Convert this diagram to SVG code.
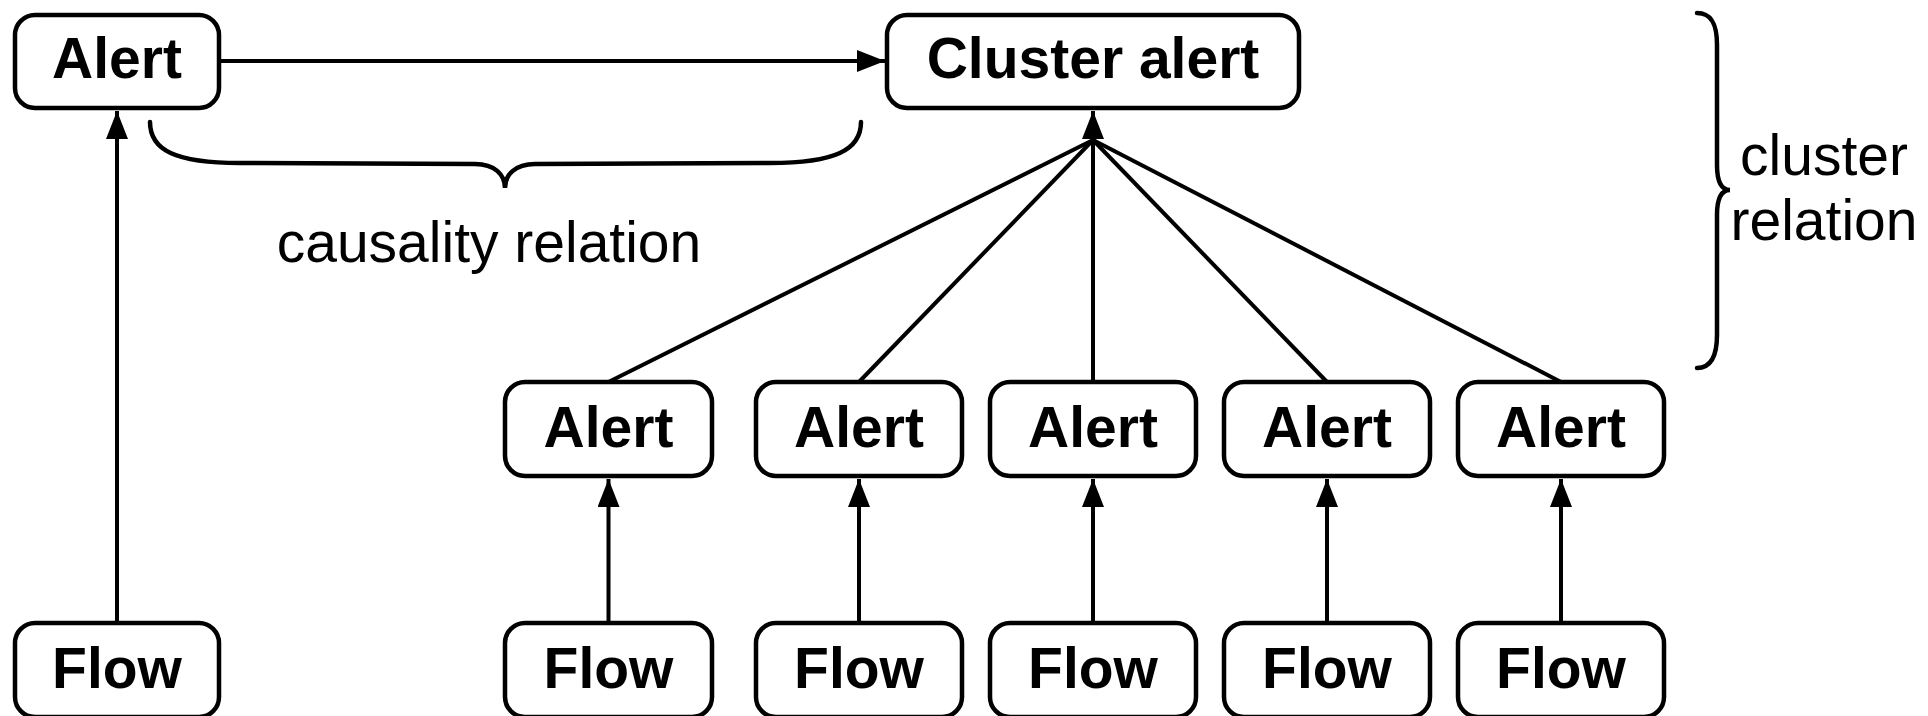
<svg xmlns="http://www.w3.org/2000/svg" width="1928" height="716" viewBox="0 0 1928 716">
  <style>
    .box { fill: #fff; stroke: #000; stroke-width: 4.5; }
    .lbl { font-family: "Liberation Sans", Arial, Helvetica, sans-serif; font-weight: bold; font-size: 57px; text-anchor: middle; fill: #000; }
    .note { font-family: "Liberation Sans", Arial, Helvetica, sans-serif; font-size: 57px; text-anchor: middle; fill: #000; }
    .edge { fill: none; stroke: #000; stroke-width: 4; }
    .brace { fill: none; stroke: #000; stroke-width: 4.5; stroke-linecap: round; }
  </style>
  <defs>
    <marker id="arrow" markerUnits="userSpaceOnUse" markerWidth="30" markerHeight="24" refX="28" refY="11" orient="auto">
      <path d="M0,0 L28,11 L0,22 z" fill="#000"/>
    </marker>
  </defs>

  <rect width="1928" height="716" fill="#fff"/>

  <!-- connectors -->
  <g id="connectors">
    <line class="edge" x1="219" y1="61" x2="885" y2="61" marker-end="url(#arrow)"/>
    <line class="edge" x1="117" y1="623" x2="117" y2="111" marker-end="url(#arrow)"/>
    <line class="edge" x1="1093" y1="382" x2="1093" y2="111" marker-end="url(#arrow)"/>
    <line class="edge" x1="1093" y1="140" x2="608.5" y2="382"/>
    <line class="edge" x1="1093" y1="140" x2="859" y2="382"/>
    <line class="edge" x1="1093" y1="140" x2="1327" y2="382"/>
    <line class="edge" x1="1093" y1="140" x2="1561" y2="382"/>
    <line class="edge" x1="608.5" y1="623" x2="608.5" y2="479" marker-end="url(#arrow)"/>
    <line class="edge" x1="859" y1="623" x2="859" y2="479" marker-end="url(#arrow)"/>
    <line class="edge" x1="1093" y1="623" x2="1093" y2="479" marker-end="url(#arrow)"/>
    <line class="edge" x1="1327" y1="623" x2="1327" y2="479" marker-end="url(#arrow)"/>
    <line class="edge" x1="1561" y1="623" x2="1561" y2="479" marker-end="url(#arrow)"/>
  </g>

  <!-- braces with their captions -->
  <g id="causality">
    <path class="brace" d="M150,122 C150,150 175,163 240,163 L475,164 C495,164 505,175 505,188 C505,175 515,164 535,164 L770,163 C835,163 861,150 861,122"/>
    <text class="note" x="489" y="262">causality relation</text>
  </g>
  <g id="cluster-relation">
    <path class="brace" d="M1697,13 C1712,13 1717,25 1717,45 L1717,165 C1717,182 1722,190 1730,190 C1722,190 1717,198 1717,215 L1717,335 C1717,355 1712,368 1697,368"/>
    <text class="note" x="1824" y="175">cluster</text>
    <text class="note" x="1824" y="240">relation</text>
  </g>

  <!-- nodes -->
  <g id="alert-top">
    <rect class="box" x="15" y="15" width="204" height="93" rx="20"/>
    <text class="lbl" x="117" y="78">Alert</text>
  </g>
  <g id="cluster-alert">
    <rect class="box" x="887" y="15" width="412" height="93" rx="20"/>
    <text class="lbl" x="1093" y="78">Cluster alert</text>
  </g>

  <g id="alert-1">
    <rect class="box" x="505" y="382" width="207" height="94" rx="20"/>
    <text class="lbl" x="608.5" y="447">Alert</text>
  </g>
  <g id="alert-2">
    <rect class="box" x="756" y="382" width="206" height="94" rx="20"/>
    <text class="lbl" x="859" y="447">Alert</text>
  </g>
  <g id="alert-3">
    <rect class="box" x="990" y="382" width="206" height="94" rx="20"/>
    <text class="lbl" x="1093" y="447">Alert</text>
  </g>
  <g id="alert-4">
    <rect class="box" x="1224" y="382" width="206" height="94" rx="20"/>
    <text class="lbl" x="1327" y="447">Alert</text>
  </g>
  <g id="alert-5">
    <rect class="box" x="1458" y="382" width="206" height="94" rx="20"/>
    <text class="lbl" x="1561" y="447">Alert</text>
  </g>

  <g id="flow-0">
    <rect class="box" x="15" y="623" width="204" height="94" rx="20"/>
    <text class="lbl" x="117" y="688">Flow</text>
  </g>
  <g id="flow-1">
    <rect class="box" x="505" y="623" width="207" height="94" rx="20"/>
    <text class="lbl" x="608.5" y="688">Flow</text>
  </g>
  <g id="flow-2">
    <rect class="box" x="756" y="623" width="206" height="94" rx="20"/>
    <text class="lbl" x="859" y="688">Flow</text>
  </g>
  <g id="flow-3">
    <rect class="box" x="990" y="623" width="206" height="94" rx="20"/>
    <text class="lbl" x="1093" y="688">Flow</text>
  </g>
  <g id="flow-4">
    <rect class="box" x="1224" y="623" width="206" height="94" rx="20"/>
    <text class="lbl" x="1327" y="688">Flow</text>
  </g>
  <g id="flow-5">
    <rect class="box" x="1458" y="623" width="206" height="94" rx="20"/>
    <text class="lbl" x="1561" y="688">Flow</text>
  </g>
</svg>
